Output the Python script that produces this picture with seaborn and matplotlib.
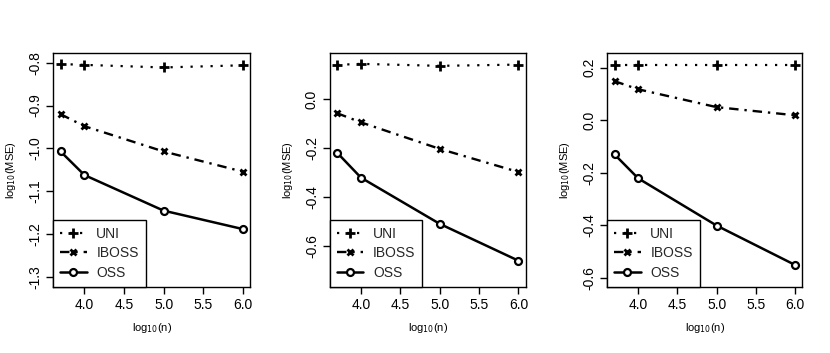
import numpy as np
import pandas as pd
import seaborn as sns
import matplotlib
matplotlib.use("Agg")
import matplotlib.pyplot as plt
from matplotlib.lines import Line2D

sns.set_theme(style="white")
plt.rcParams['font.family'] = ['Liberation Sans', 'DejaVu Sans']

log_n = [3.699, 4.0, 5.0, 6.0]
methods = ["UNI", "IBOSS", "OSS"]

p1_uni = [-0.803, -0.805, -0.811, -0.806]
p1_iboss = [-0.920, -0.948, -1.007, -1.054]
p1_oss = [-1.007, -1.062, -1.145, -1.188]

p2_uni = [0.139, 0.143, 0.135, 0.140]
p2_iboss = [-0.058, -0.095, -0.203, -0.297]
p2_oss = [-0.219, -0.320, -0.508, -0.658]

p3_uni = [0.211, 0.211, 0.211, 0.211]
p3_iboss = [0.149, 0.118, 0.050, 0.019]
p3_oss = [-0.130, -0.221, -0.401, -0.551]

p1_ticks = [-0.8, -0.9, -1.0, -1.1, -1.2, -1.3]
p2_ticks = [0.0, -0.2, -0.4, -0.6]
p3_ticks = [0.2, 0.0, -0.2, -0.4, -0.6]
x_ticks = [4.0, 4.5, 5.0, 5.5, 6.0]

panels = [
    (p1_uni, p1_iboss, p1_oss, p1_ticks, (-1.322, -0.778)),
    (p2_uni, p2_iboss, p2_oss, p2_ticks, (-0.763, 0.186)),
    (p3_uni, p3_iboss, p3_oss, p3_ticks, (-0.633, 0.255)),
]
positions = [
    (53.3, 250.0),
    (330.0, 525.7),
    (607.3, 802.3),
]

W, H = 830, 353
fig = plt.figure(figsize=(W / 100, H / 100), dpi=100)

styles = {
    "UNI": dict(marker="+", linestyle=(0, (1, 3.5)), lw=1.6, ms=7.5, mew=2.0),
    "IBOSS": dict(marker="x", linestyle=(0, (4, 2.5, 1, 2.5)), lw=1.7, ms=4.8, mew=2.0),
    "OSS": dict(marker="o", linestyle="-", lw=1.8, ms=5.0, mew=1.6, mfc="white"),
}

for (uni, iboss, oss, ticks, ylim), (l, r) in zip(panels, positions):
    top, bot = 53.3, 286.5
    ax = fig.add_axes([l / W, (H - bot) / H, (r - l) / W, (bot - top) / H])
    df = pd.DataFrame({
        "log_n": log_n * 3,
        "value": uni + iboss + oss,
        "method": [m for m in methods for _ in log_n],
    })
    handles = []
    for m in methods:
        sub = df[df["method"] == m]
        st = styles[m]
        sns.lineplot(data=sub, x="log_n", y="value", ax=ax, color="black",
                     marker=st["marker"], linestyle=st["linestyle"], lw=st["lw"],
                     markersize=st["ms"], markeredgewidth=st["mew"],
                     markerfacecolor=st.get("mfc", "black"), markeredgecolor="black",
                     legend=False)
        handles.append(Line2D([], [], color="black", marker=st["marker"],
                              linestyle=st["linestyle"], lw=st["lw"],
                              markersize=st["ms"], markeredgewidth=st["mew"],
                              markerfacecolor=st.get("mfc", "black"),
                              markeredgecolor="black", label=m))
    ax.set_xlim(3.607, 6.092)
    ax.set_ylim(*ylim)
    ax.set_xticks(x_ticks)
    ax.set_xticklabels([f"{t:.1f}" for t in x_ticks])
    ax.set_yticks(ticks)
    ax.set_yticklabels([f"{t:.1f}" for t in ticks], rotation=90, va="center")
    for s in ax.spines.values():
        s.set_color("black")
        s.set_linewidth(1.0)
    ax.tick_params(axis="both", which="both", direction="out", length=5, width=1,
                   color="black", labelsize=10, labelcolor="black", pad=3,
                   left=True, bottom=True)
    ax.set_xlabel(r"log$_{10}$(n)", fontsize=8, color="black", labelpad=7)
    ax.set_ylabel(r"log$_{10}$(MSE)", fontsize=8, color="black", labelpad=7)
    ax.grid(False)
    leg = ax.legend(handles=handles, loc="lower left", bbox_to_anchor=(0, 0),
                    borderaxespad=0, fancybox=False, framealpha=1, edgecolor="black",
                    fontsize=10, handlelength=1.9, handletextpad=0.7,
                    borderpad=0.5, labelspacing=0.38)
    leg.get_frame().set_linewidth(1.0)

fig.savefig("out.png", dpi=100)
